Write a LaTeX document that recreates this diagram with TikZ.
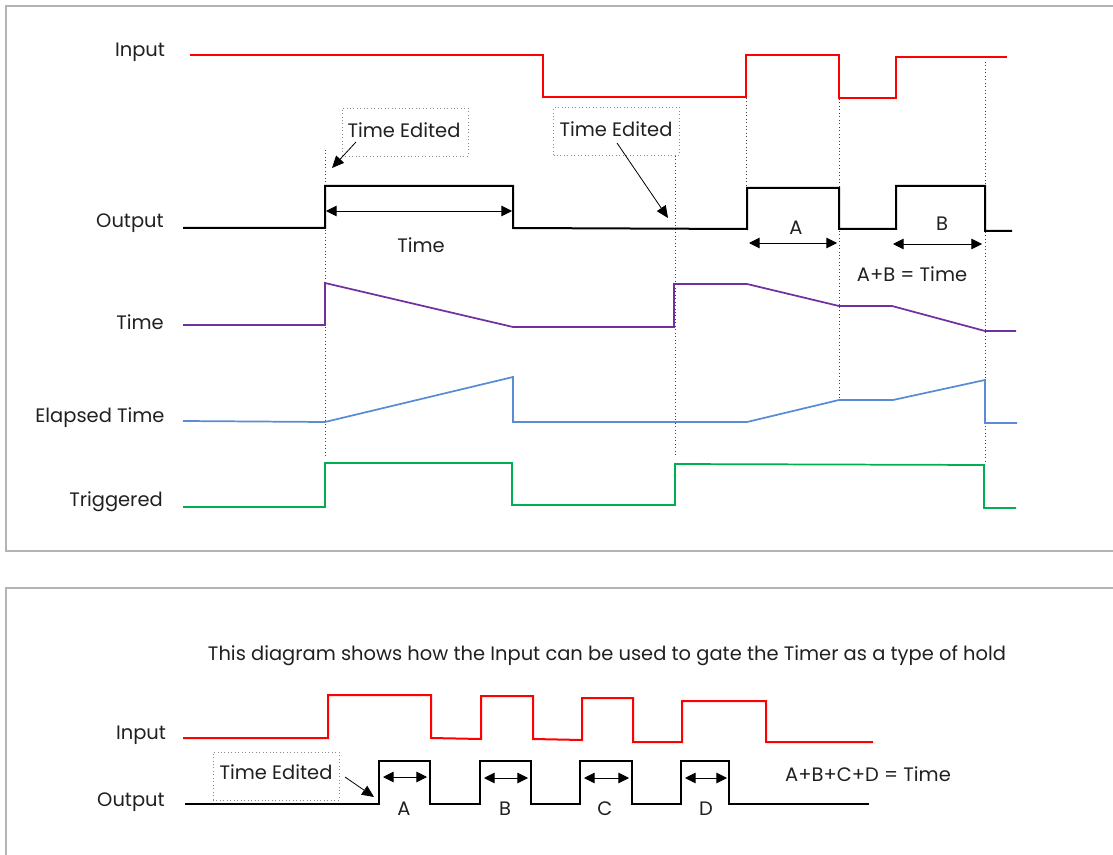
\documentclass[tikz,border=0pt]{standalone}
\usepackage{fontspec}
\setmainfont{Poppins}
\usetikzlibrary{arrows.meta}
\definecolor{sigred}{HTML}{FF0000}
\definecolor{sigpurple}{HTML}{7030A0}
\definecolor{sigblue}{HTML}{5A8CD6}
\definecolor{siggreen}{HTML}{00B050}
\definecolor{framegray}{HTML}{B4B4B4}
\definecolor{txt}{HTML}{202020}
\tikzset{
  lbl/.style={font=\fontsize{14.6}{17}\selectfont, text=txt, inner sep=0pt, anchor=center, yshift=-2pt},
  sig/.style={line width=1.5pt, line join=miter},
  frame/.style={draw=framegray, line width=0.9pt},
  guide/.style={draw=black!75, dotted, line width=0.6pt},
  ebox/.style={draw=black!45, dotted, line width=0.6pt, minimum width=94.5pt, minimum height=36pt, inner sep=0pt},
  dimarrow/.style={line width=0.7pt, {Triangle[length=8pt,width=8pt]}-{Triangle[length=8pt,width=8pt]}},
  pointer/.style={line width=0.6pt, -{Triangle[length=9pt,width=8pt]}}
}
\begin{document}
\begin{tikzpicture}[x=0.75pt,y=-0.75pt]
\useasboundingbox (0,0) rectangle (1113,855);
\clip (0,0) rectangle (1113,855);
% frames
\draw[frame] (1130,6) -- (6,6) -- (6,551) -- (1130,551);
\draw[frame] (1130,588) -- (6,588) -- (6,870);

% ---------- top diagram ----------
\node[lbl] (lin) at (140,50) {Input};
\node[lbl] (lout) at (130,221) {Output};
\node[lbl] (ltime) at (140,320) {Time};
\node[lbl] (lel) at (100,415) {Elapsed Time};
\node[lbl] (ltrig) at (116,499) {Triggered};

% guides
\draw[guide] (325,150) -- (325,456);
\draw[guide] (675,156) -- (675,456);
\draw[guide] (746,98) -- (746,188);
\draw[guide] (839,99) -- (839,400);
\draw[guide] (985,62) -- (985,462);

% input
\draw[sig, sigred] (190,55) -- (543,55) -- (543,97) -- (746,97) -- (746,55) -- (839,55) -- (839,98) -- (896,98) -- (896,57) -- (1007,57);
% output
\draw[sig, black] (183,228) -- (325,228) -- (325,186) -- (513,186) -- (513,228) -- (747,229) -- (747,188) -- (839,188) -- (839,229) -- (896,229) -- (896,186) -- (985,186) -- (985,231) -- (1012,231);
% time
\draw[sig, sigpurple, line width=1.3pt] (183,325) -- (325,325) -- (325,283) -- (513,327) -- (674,327) -- (674,284) -- (747,284) -- (839,306) -- (892,306) -- (985,331) -- (1016,331);
% elapsed
\draw[sig, sigblue, line width=1.3pt] (183,421) -- (325,422) -- (513,377) -- (513,422) -- (747,422) -- (839,400) -- (893,400) -- (985,380) -- (985,423) -- (1017,423);
% triggered
\draw[sig, siggreen, line width=1.3pt] (183,507) -- (325,507) -- (325,463) -- (512,463) -- (512,505) -- (675,505) -- (675,464) -- (984,465) -- (984,508) -- (1016,508);

% dimensions
\coordinate (t1) at (326,211); \coordinate (t2) at (512,211);
\draw[dimarrow] (t1) -- (t2);
\node[lbl] (ltimed) at (421,243) {Time};
\coordinate (a1) at (749,243); \coordinate (a2) at (837,243);
\draw[dimarrow] (a1) -- (a2);
\node[lbl] (la) at (796,225) {A};
\coordinate (b1) at (893,244); \coordinate (b2) at (982,244);
\draw[dimarrow, draw=black] (b1) -- (b2);
\node[lbl] (lb) at (942,221) {B};
\node[lbl] (lab) at (912,272) {A+B = Time};

% time edited boxes
\node[ebox] (te1) at (405,132) {};
\node[lbl] (te1t) at (404,128) {Time Edited};
\coordinate (p1s) at (356,142); \coordinate (p1e) at (332,168);
\draw[pointer] (p1s) -- (p1e);
\node[ebox] (te2) at (616.5,131.5) {};
\node[lbl] (te2t) at (616,127) {Time Edited};
\coordinate (p2s) at (617,143); \coordinate (p2e) at (668,218);
\draw[pointer] (p2s) -- (p2e);

% ---------- bottom diagram ----------
\node[lbl] (title) at (607,653) {This diagram shows how the Input can be used to gate the Timer as a type of hold};
\node[lbl] (bin) at (141,733) {Input};
\node[lbl] (bout) at (131,799) {Output};

\draw[sig, sigred] (183,738) -- (328,738) -- (328,695) -- (431,695) -- (431,738) -- (481,739) -- (481,696) -- (533,696) -- (533,739) -- (582,740) -- (582,698) -- (633,698) -- (633,742) -- (682,742) -- (682,701) -- (766,701) -- (766,742) -- (873,742);
\draw[sig, black] (185,804) -- (379,804) -- (379,761) -- (430,761) -- (430,804) -- (480,804) -- (480,761) -- (531,761) -- (531,804) -- (580,804) -- (580,761) -- (632,761) -- (632,804) -- (681,804) -- (681,761) -- (729,761) -- (729,804) -- (869,804);

\coordinate (ba1) at (383,777); \coordinate (ba2) at (427,777);
\draw[dimarrow] (ba1) -- (ba2);
\coordinate (bb1) at (484,778); \coordinate (bb2) at (528,778);
\draw[dimarrow] (bb1) -- (bb2);
\coordinate (bc1) at (584,778); \coordinate (bc2) at (629,778);
\draw[dimarrow] (bc1) -- (bc2);
\coordinate (bd1) at (685,778); \coordinate (bd2) at (727,778);
\draw[dimarrow] (bd1) -- (bd2);
\node[lbl] (bla) at (404,806) {A};
\node[lbl] (blb) at (505,806) {B};
\node[lbl] (blc) at (605,806) {C};
\node[lbl] (bld) at (706,806) {D};
\node[lbl] (bsum) at (868,772) {A+B+C+D = Time};

\node[ebox] (te3) at (276,776) {};
\node[lbl] (te3t) at (276,770) {Time Edited};
\coordinate (p3s) at (345,777); \coordinate (p3e) at (374,797);
\draw[pointer] (p3s) -- (p3e);
\end{tikzpicture}
\end{document}
